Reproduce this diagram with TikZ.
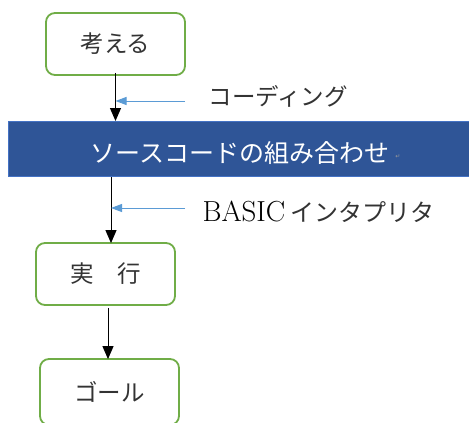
\documentclass[tikz,border=0pt]{standalone}
\usepackage{fontspec}
\newfontfamily\jp{Noto Sans CJK JP}
\newfontfamily\djv{DejaVu Sans}
\usetikzlibrary{arrows.meta,calc}
\definecolor{gbox}{HTML}{70AD47}
\definecolor{bbar}{HTML}{2F5597}
\definecolor{bline}{HTML}{4472C4}
\definecolor{barrow}{HTML}{5B9BD5}
\tikzset{
  gbox/.style={draw=gbox,line width=1.8pt,rounded corners=9pt,minimum width=139pt,minimum height=62pt,fill=white,inner sep=0pt},
  jtext/.style={font=\jp\fontsize{23.5}{28}\selectfont,text=black!80},
  arr/.style={-{Triangle[width=11pt,length=13pt]},line width=1pt,black},
  barr/.style={-{Triangle[width=8pt,length=11pt]},line width=1pt,barrow},
}
\begin{document}
\begin{tikzpicture}[x=1pt,y=-1pt]
\useasboundingbox (0,0) rectangle (469,423);
\begin{scope}
\clip (0,0) rectangle (469,423);
\node[gbox,jtext] (think) at (115.5,44) {考える};
\node[draw=bline,line width=1pt,fill=bbar,minimum width=470pt,minimum height=55pt,inner sep=0pt,anchor=north west] (bar) at (8,121) {};
\node[font=\jp\fontsize{25}{30}\selectfont,text=white] (bartext) at (240,153) {ソースコードの組み合わせ};
\node[font=\djv\fontsize{6}{7}\selectfont,text=black!40] (ret) at (398,157) {↵};
\node[gbox,jtext] (run) at (105.5,274) {実\hspace{1em}行};
\node[gbox,jtext,minimum height=66pt] (goal) at (109.5,392) {ゴール};
\node[jtext,anchor=west] (coding) at (205,96) {コーディング};
\node[anchor=west,font=\fontsize{29}{32}\selectfont] (basic) at (199,212) {BASIC\,{\jp\fontsize{24}{28}\selectfont\color{black!80}インタプリタ}};
\end{scope}
\draw[arr] ([yshift=3pt]think.south) -- (think.south |- bar.north);
\draw[arr] ([xshift=5.5pt]run.north |- bar.south) -- ([xshift=5.5pt,yshift=-1pt]run.north);
\draw[arr] ([xshift=2.5pt,yshift=-2pt]run.south) -- ([xshift=-1.5pt,yshift=-1pt]goal.north);
\coordinate (c1) at (185,101);
\coordinate (c2) at (185,208);
\draw[barr] (c1) -- (c1 -| think.south);
\draw[barr] (c2) -- ($(c2 -| run.north)+(5.5,0)$);
\end{tikzpicture}
\end{document}
